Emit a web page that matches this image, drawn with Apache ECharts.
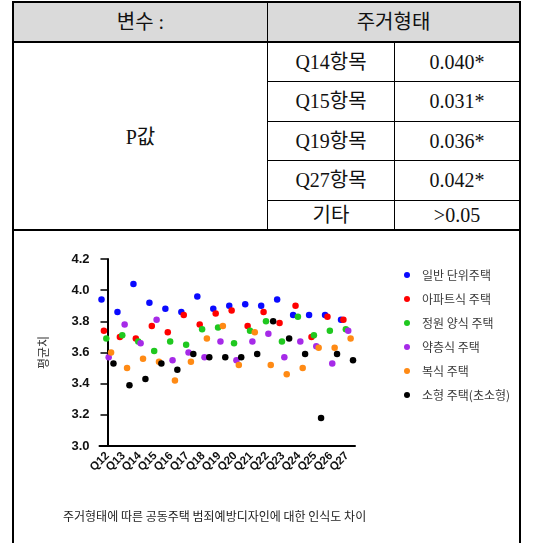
<!DOCTYPE html>
<html>
<head>
<meta charset="utf-8">
<script src="https://cdn.jsdelivr.net/npm/echarts@6/dist/echarts.min.js"></script>
<style>
  html, body { margin: 0; padding: 0; background: #fff; }
  body { width: 544px; height: 543px; position: relative; overflow: hidden; }
  .ln { position: absolute; background: #000; }
  .tx { position: absolute; text-align: center; font-family: "Liberation Serif", "Noto Sans CJK KR", serif; font-size: 20px; color: #111; line-height: 1; }
  #chart { position: absolute; left: 14px; top: 232px; width: 505px; height: 311px; }
</style>
</head>
<body>
<!-- header background -->
<div style="position:absolute;left:12px;top:2px;width:509px;height:40px;background:#dadada;"></div>
<!-- outer border -->
<div class="ln" style="left:12px;top:2px;width:2px;height:560px;"></div>
<div class="ln" style="left:519px;top:2px;width:2px;height:560px;"></div>
<div class="ln" style="left:12px;top:1px;width:509px;height:2px;"></div>
<!-- header row -->
<div class="ln" style="left:267px;top:2px;width:1px;height:228px;"></div>
<div class="ln" style="left:12px;top:41px;width:509px;height:1.5px;"></div>
<div class="ln" style="left:394px;top:42px;width:1px;height:188px;"></div>
<div class="ln" style="left:267px;top:81px;width:254px;height:1px;"></div>
<div class="ln" style="left:267px;top:121px;width:254px;height:1px;"></div>
<div class="ln" style="left:267px;top:160px;width:254px;height:1px;"></div>
<div class="ln" style="left:267px;top:200px;width:254px;height:1px;"></div>
<div class="ln" style="left:12px;top:229px;width:509px;height:1.5px;"></div>

<div class="tx" style="left:14px;width:253px;top:12px;">변수 :</div>
<div class="tx" style="left:268px;width:251px;top:12px;">주거형태</div>
<div class="tx" style="left:14px;width:253px;top:127px;">P값</div>
<div id="rows"></div>

<div id="chart"></div>
<script>
// ---- table data ----
const tableItems = ["Q14항목", "Q15항목", "Q19항목", "Q27항목", "기타"];
const tableValues = ["0.040*", "0.031*", "0.036*", "0.042*", ">0.05"];

// ---- chart data ----
const categories = ["Q12","Q13","Q14","Q15","Q16","Q17","Q18","Q19","Q20","Q21","Q22","Q23","Q24","Q25","Q26","Q27"];
const seriesNames = ["일반 단위주택", "아파트식 주택", "정원 양식 주택", "약층식 주택", "복식 주택", "소형 주택(초소형)"];
const general   = [3.94,3.86,4.04,3.92,3.88,3.86,3.96,3.88,3.90,3.91,3.90,3.94,3.84,3.84,3.84,3.81];
const apartment = [3.74,3.70,3.69,3.77,3.73,3.84,3.78,3.85,3.87,3.77,3.86,3.79,3.90,3.70,3.83,3.81];
const garden    = [3.69,3.71,3.67,3.61,3.67,3.65,3.75,3.76,3.66,3.74,3.80,3.67,3.83,3.71,3.74,3.75];
const terrace   = [3.57,3.78,3.66,3.81,3.55,3.60,3.57,3.67,3.55,3.67,3.72,3.57,3.67,3.64,3.53,3.74];
const duplex    = [3.60,3.50,3.56,3.54,3.42,3.54,3.69,3.77,3.52,3.73,3.52,3.46,3.50,3.63,3.63,3.69];
const small     = [3.53,3.39,3.43,3.53,3.49,3.59,3.57,3.57,3.57,3.59,3.80,3.69,3.59,3.18,3.59,3.55];
const yTicks = [3.0, 3.2, 3.4, 3.6, 3.8, 4.0, 4.2];

const allValues = [general, apartment, garden, terrace, duplex, small];
const colors = ["#0a0aff", "#ff0000", "#1fc81f", "#a62ae8", "#ff8a14", "#000000"];
const offsets = [-0.375, -0.225, -0.075, 0.075, 0.225, 0.375];

// build table rows
const rows = document.getElementById('rows');
tableItems.forEach((it, i) => {
  const tops = [52, 91, 131, 170, 205];
  const a = document.createElement('div');
  a.className = 'tx'; a.style.left = '268px'; a.style.width = '126px'; a.style.top = tops[i] + 'px';
  a.textContent = it; rows.appendChild(a);
  const b = document.createElement('div');
  b.className = 'tx'; b.style.left = '395px'; b.style.width = '124px'; b.style.top = tops[i] + 'px';
  b.textContent = tableValues[i]; rows.appendChild(b);
});

const chart = echarts.init(document.getElementById('chart'), null, { renderer: 'canvas' });
const font = '"Liberation Sans", "Noto Sans CJK KR", Arial, sans-serif';
const series = allValues.map((vals, s) => ({
  name: seriesNames[s],
  type: 'scatter',
  xAxisIndex: 1,
  yAxisIndex: 0,
  symbol: 'circle',
  symbolSize: 6.5,
  itemStyle: { color: colors[s], opacity: 1 },
  data: vals.map((v, i) => [i + offsets[s], v])
}));

chart.setOption({
  animation: false,
  backgroundColor: 'transparent',
  textStyle: { fontFamily: font },
  grid: { left: 85.5, top: 27, width: 255.5, height: 187, containLabel: false },
  legend: {
    orient: 'vertical',
    left: 385, top: 31,
    itemWidth: 6, itemHeight: 6,
    itemGap: 10,
    icon: 'circle',
    textStyle: { fontSize: 12, color: '#3a3a3a', lineHeight: 14, padding: [0, 0, 0, 7], fontFamily: '"Noto Sans CJK KR", sans-serif' },
    data: seriesNames
  },
  xAxis: [
    {
      type: 'category',
      data: categories,
      boundaryGap: true,
      axisLine: { lineStyle: { color: '#000', width: 2 } },
      axisTick: { alignWithLabel: true, length: 6, lineStyle: { color: '#000', width: 1.5 } },
      axisLabel: { rotate: 45, fontSize: 11.5, fontWeight: 'bold', color: '#111', margin: 8, interval: 0 },
      splitLine: { show: false }
    },
    { type: 'value', min: -0.5, max: 15.5, show: false }
  ],
  yAxis: {
    type: 'value', min: 3.0, max: 4.2, interval: 0.2,
    name: '평균치', nameLocation: 'middle', nameGap: 50,
    nameTextStyle: { fontSize: 12, color: '#333', fontFamily: '"Noto Sans CJK KR", sans-serif' },
    axisLine: { show: true, lineStyle: { color: '#000', width: 2 } },
    axisTick: { show: true, length: 7, lineStyle: { color: '#000', width: 1.5 } },
    axisLabel: { fontSize: 13, fontWeight: 'bold', color: '#111', margin: 10, formatter: v => v.toFixed(1) },
    splitLine: { show: false }
  },
  graphic: [{
    type: 'text', left: 49, top: 278,
    style: { text: '주거형태에 따른 공동주택 범죄예방디자인에 대한 인식도 차이', fontSize: 12, fill: '#222', fontFamily: '"Noto Sans CJK KR", sans-serif' }
  }],
  series: series
});
</script>
</body>
</html>
